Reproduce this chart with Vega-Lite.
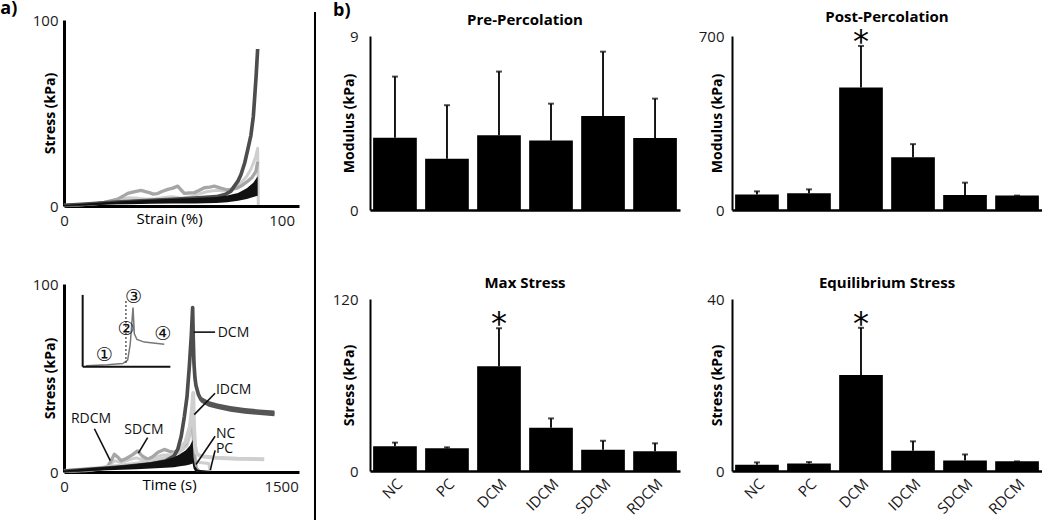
{
  "$schema": "https://vega.github.io/schema/vega-lite/v6.json",
  "background": "white",
  "padding": {"left": 0, "top": 0, "right": 0, "bottom": 0},
  "config": {
    "font": "Open Sans",
    "view": {"stroke": null},
    "axis": {"grid": false, "ticks": false, "domainColor": "#000", "labelColor": "#1a1a1a", "labelFontSize": 15, "titleFontSize": 14, "titleFontWeight": "bold", "titleColor": "#000", "labelPadding": 4},
    "title": {"fontSize": 15, "fontWeight": "bold", "color": "#000", "offset": 1}
  },
  "datasets": {
    "bars": [
      {"m": "pre", "g": "NC", "v": 3.74, "hi": 6.9, "sig": ""},
      {"m": "pre", "g": "PC", "v": 2.65, "hi": 5.42, "sig": ""},
      {"m": "pre", "g": "DCM", "v": 3.86, "hi": 7.16, "sig": ""},
      {"m": "pre", "g": "IDCM", "v": 3.6, "hi": 5.5, "sig": ""},
      {"m": "pre", "g": "SDCM", "v": 4.86, "hi": 8.19, "sig": ""},
      {"m": "pre", "g": "RDCM", "v": 3.72, "hi": 5.76, "sig": ""},
      {"m": "post", "g": "NC", "v": 62, "hi": 75, "sig": ""},
      {"m": "post", "g": "PC", "v": 67, "hi": 83, "sig": ""},
      {"m": "post", "g": "DCM", "v": 493, "hi": 660, "sig": "*"},
      {"m": "post", "g": "IDCM", "v": 212, "hi": 265, "sig": ""},
      {"m": "post", "g": "SDCM", "v": 60, "hi": 110, "sig": ""},
      {"m": "post", "g": "RDCM", "v": 58, "hi": 58, "sig": ""},
      {"m": "max", "g": "NC", "v": 17.2, "hi": 19.8, "sig": ""},
      {"m": "max", "g": "PC", "v": 15.8, "hi": 16.5, "sig": ""},
      {"m": "max", "g": "DCM", "v": 73, "hi": 99.6, "sig": "*"},
      {"m": "max", "g": "IDCM", "v": 30.2, "hi": 36.7, "sig": ""},
      {"m": "max", "g": "SDCM", "v": 14.9, "hi": 21.1, "sig": ""},
      {"m": "max", "g": "RDCM", "v": 13.7, "hi": 19.3, "sig": ""},
      {"m": "eq", "g": "NC", "v": 1.46, "hi": 2.0, "sig": ""},
      {"m": "eq", "g": "PC", "v": 1.77, "hi": 2.08, "sig": ""},
      {"m": "eq", "g": "DCM", "v": 22.3, "hi": 33.3, "sig": "*"},
      {"m": "eq", "g": "IDCM", "v": 4.7, "hi": 6.9, "sig": ""},
      {"m": "eq", "g": "SDCM", "v": 2.47, "hi": 3.85, "sig": ""},
      {"m": "eq", "g": "RDCM", "v": 2.24, "hi": 2.24, "sig": ""}
    ],
    "st": [
      {"s": "light", "x": 0, "y": 0.2}, {"s": "light", "x": 10, "y": 0.8}, {"s": "light", "x": 18, "y": 1.8}, {"s": "light", "x": 22, "y": 2.8}, {"s": "light", "x": 26, "y": 3.8}, {"s": "light", "x": 30, "y": 4.5}, {"s": "light", "x": 34, "y": 4.2}, {"s": "light", "x": 38, "y": 3.6}, {"s": "light", "x": 42, "y": 3.9}, {"s": "light", "x": 46, "y": 4.6}, {"s": "light", "x": 50, "y": 5.0}, {"s": "light", "x": 54, "y": 4.2}, {"s": "light", "x": 58, "y": 4.8}, {"s": "light", "x": 62, "y": 6.5}, {"s": "light", "x": 66, "y": 7.8}, {"s": "light", "x": 70, "y": 8.4}, {"s": "light", "x": 74, "y": 8.0}, {"s": "light", "x": 78, "y": 9.5}, {"s": "light", "x": 81, "y": 12}, {"s": "light", "x": 84, "y": 16}, {"s": "light", "x": 86, "y": 20}, {"s": "light", "x": 88, "y": 26}, {"s": "light", "x": 89, "y": 31}, {"s": "light", "x": 89.3, "y": 0.5},
      {"s": "gray", "x": 0, "y": 0.3}, {"s": "gray", "x": 5, "y": 0.6}, {"s": "gray", "x": 10, "y": 0.9}, {"s": "gray", "x": 15, "y": 1.3}, {"s": "gray", "x": 18.5, "y": 1.9}, {"s": "gray", "x": 21, "y": 2.6}, {"s": "gray", "x": 24.7, "y": 3.7}, {"s": "gray", "x": 27, "y": 5.2}, {"s": "gray", "x": 29.3, "y": 6.8}, {"s": "gray", "x": 32, "y": 7.6}, {"s": "gray", "x": 35.4, "y": 8.4}, {"s": "gray", "x": 37, "y": 7.9}, {"s": "gray", "x": 39.2, "y": 7.2}, {"s": "gray", "x": 41, "y": 6.4}, {"s": "gray", "x": 43, "y": 6.7}, {"s": "gray", "x": 45, "y": 7.8}, {"s": "gray", "x": 47.7, "y": 8.9}, {"s": "gray", "x": 50, "y": 9.6}, {"s": "gray", "x": 52.3, "y": 10.7}, {"s": "gray", "x": 53.5, "y": 9.0}, {"s": "gray", "x": 55.3, "y": 6.8}, {"s": "gray", "x": 57.5, "y": 7.0}, {"s": "gray", "x": 59.9, "y": 7.2}, {"s": "gray", "x": 62, "y": 8.3}, {"s": "gray", "x": 64.5, "y": 9.8}, {"s": "gray", "x": 67, "y": 10.2}, {"s": "gray", "x": 69.1, "y": 10.7}, {"s": "gray", "x": 72, "y": 9.6}, {"s": "gray", "x": 75.2, "y": 8.6}, {"s": "gray", "x": 77.5, "y": 9.1}, {"s": "gray", "x": 79.8, "y": 9.8}, {"s": "gray", "x": 82, "y": 11.2}, {"s": "gray", "x": 84.4, "y": 13.3}, {"s": "gray", "x": 86.5, "y": 15.5}, {"s": "gray", "x": 88.2, "y": 18.6}, {"s": "gray", "x": 89, "y": 23.8},
      {"s": "DCM", "x": 0, "y": 0.4}, {"s": "DCM", "x": 10, "y": 1.0}, {"s": "DCM", "x": 20, "y": 1.8}, {"s": "DCM", "x": 30, "y": 2.5}, {"s": "DCM", "x": 40, "y": 3.0}, {"s": "DCM", "x": 50, "y": 3.6}, {"s": "DCM", "x": 60, "y": 4.2}, {"s": "DCM", "x": 70, "y": 5.0}, {"s": "DCM", "x": 74, "y": 6.2}, {"s": "DCM", "x": 76.7, "y": 8}, {"s": "DCM", "x": 78.3, "y": 10.7}, {"s": "DCM", "x": 80, "y": 13.5}, {"s": "DCM", "x": 81.3, "y": 16.8}, {"s": "DCM", "x": 83, "y": 23}, {"s": "DCM", "x": 84.4, "y": 30}, {"s": "DCM", "x": 85.9, "y": 38}, {"s": "DCM", "x": 87, "y": 48}, {"s": "DCM", "x": 87.5, "y": 56.3}, {"s": "DCM", "x": 88.3, "y": 70}, {"s": "DCM", "x": 89, "y": 84.4}
    ],
    "stBand": [
      {"x": 0, "lo": 0, "hi": 0.5}, {"x": 5, "lo": 0.2, "hi": 1.0}, {"x": 10, "lo": 0.4, "hi": 1.4}, {"x": 15, "lo": 0.6, "hi": 1.8}, {"x": 20, "lo": 0.8, "hi": 2.2}, {"x": 30, "lo": 1.0, "hi": 2.8}, {"x": 40, "lo": 1.2, "hi": 3.4}, {"x": 50, "lo": 1.3, "hi": 3.9}, {"x": 60, "lo": 1.4, "hi": 4.3}, {"x": 70, "lo": 1.6, "hi": 4.8}, {"x": 75, "lo": 2.0, "hi": 5.6}, {"x": 80, "lo": 2.8, "hi": 7.0}, {"x": 84, "lo": 3.8, "hi": 9.5}, {"x": 87, "lo": 4.8, "hi": 12.5}, {"x": 89, "lo": 5.5, "hi": 16}
    ],
    "tm": [
      {"s": "light", "t": 0, "y": 0.3}, {"s": "light", "t": 200, "y": 1.2}, {"s": "light", "t": 300, "y": 2.5}, {"s": "light", "t": 350, "y": 6}, {"s": "light", "t": 394, "y": 5}, {"s": "light", "t": 450, "y": 6.5}, {"s": "light", "t": 500, "y": 7.5}, {"s": "light", "t": 560, "y": 6}, {"s": "light", "t": 620, "y": 7.5}, {"s": "light", "t": 680, "y": 9}, {"s": "light", "t": 740, "y": 9}, {"s": "light", "t": 800, "y": 10.5}, {"s": "light", "t": 850, "y": 14}, {"s": "light", "t": 880, "y": 22}, {"s": "light", "t": 890, "y": 26}, {"s": "light", "t": 898, "y": 12}, {"s": "light", "t": 910, "y": 6}, {"s": "light", "t": 940, "y": 5}, {"s": "light", "t": 1000, "y": 4.5}, {"s": "light", "t": 1010, "y": 0.5},
      {"s": "gray", "t": 0, "y": 0.3}, {"s": "gray", "t": 150, "y": 0.8}, {"s": "gray", "t": 250, "y": 1.5}, {"s": "gray", "t": 300, "y": 3}, {"s": "gray", "t": 323, "y": 5.5}, {"s": "gray", "t": 348, "y": 9.5}, {"s": "gray", "t": 370, "y": 8}, {"s": "gray", "t": 394, "y": 6}, {"s": "gray", "t": 430, "y": 7.2}, {"s": "gray", "t": 470, "y": 9}, {"s": "gray", "t": 509, "y": 11.2}, {"s": "gray", "t": 540, "y": 8.5}, {"s": "gray", "t": 578, "y": 6.8}, {"s": "gray", "t": 610, "y": 8}, {"s": "gray", "t": 650, "y": 10.5}, {"s": "gray", "t": 693, "y": 12}, {"s": "gray", "t": 730, "y": 11}, {"s": "gray", "t": 762, "y": 10.5}, {"s": "gray", "t": 800, "y": 12}, {"s": "gray", "t": 840, "y": 15}, {"s": "gray", "t": 877, "y": 26}, {"s": "gray", "t": 889, "y": 30}, {"s": "gray", "t": 896, "y": 14}, {"s": "gray", "t": 905, "y": 6}, {"s": "gray", "t": 915, "y": 2}, {"s": "gray", "t": 930, "y": 0.5},
      {"s": "IDCM", "t": 0, "y": 0.5}, {"s": "IDCM", "t": 200, "y": 1.8}, {"s": "IDCM", "t": 400, "y": 3.5}, {"s": "IDCM", "t": 600, "y": 5.5}, {"s": "IDCM", "t": 700, "y": 7.5}, {"s": "IDCM", "t": 760, "y": 9.5}, {"s": "IDCM", "t": 800, "y": 12}, {"s": "IDCM", "t": 840, "y": 16}, {"s": "IDCM", "t": 870, "y": 24}, {"s": "IDCM", "t": 885, "y": 34}, {"s": "IDCM", "t": 893, "y": 42}, {"s": "IDCM", "t": 898, "y": 25}, {"s": "IDCM", "t": 905, "y": 14}, {"s": "IDCM", "t": 915, "y": 10}, {"s": "IDCM", "t": 935, "y": 8.8}, {"s": "IDCM", "t": 960, "y": 8.2}, {"s": "IDCM", "t": 1050, "y": 7.6}, {"s": "IDCM", "t": 1200, "y": 7.1}, {"s": "IDCM", "t": 1384, "y": 6.8},
      {"s": "DCM", "t": 0, "y": 0.5}, {"s": "DCM", "t": 200, "y": 1.5}, {"s": "DCM", "t": 400, "y": 2.8}, {"s": "DCM", "t": 600, "y": 4.3}, {"s": "DCM", "t": 700, "y": 5.8}, {"s": "DCM", "t": 760, "y": 8.5}, {"s": "DCM", "t": 786, "y": 12}, {"s": "DCM", "t": 810, "y": 19}, {"s": "DCM", "t": 832, "y": 29.6}, {"s": "DCM", "t": 850, "y": 40}, {"s": "DCM", "t": 866, "y": 56}, {"s": "DCM", "t": 880, "y": 73}, {"s": "DCM", "t": 889, "y": 87.5}, {"s": "DCM", "t": 893, "y": 72}, {"s": "DCM", "t": 898, "y": 58}, {"s": "DCM", "t": 905, "y": 50}, {"s": "DCM", "t": 912, "y": 46}, {"s": "DCM", "t": 930, "y": 41}, {"s": "DCM", "t": 947, "y": 38.5}, {"s": "DCM", "t": 1000, "y": 36.2}, {"s": "DCM", "t": 1062, "y": 35}, {"s": "DCM", "t": 1150, "y": 33.6}, {"s": "DCM", "t": 1250, "y": 32.5}, {"s": "DCM", "t": 1350, "y": 31.8}, {"s": "DCM", "t": 1454, "y": 31.2}
    ],
    "tmBand": [
      {"t": 0, "lo": 0, "hi": 0.8}, {"t": 100, "lo": 0.3, "hi": 1.5}, {"t": 200, "lo": 0.6, "hi": 2.2}, {"t": 300, "lo": 0.9, "hi": 2.8}, {"t": 400, "lo": 1.2, "hi": 3.5}, {"t": 500, "lo": 1.5, "hi": 4.3}, {"t": 600, "lo": 1.8, "hi": 5.2}, {"t": 700, "lo": 2.2, "hi": 6.5}, {"t": 760, "lo": 2.5, "hi": 7.8}, {"t": 800, "lo": 3.0, "hi": 9.5}, {"t": 840, "lo": 3.5, "hi": 11.5}, {"t": 870, "lo": 4.0, "hi": 14.0}, {"t": 889, "lo": 4.5, "hi": 17.0}, {"t": 895, "lo": 2.0, "hi": 8.0}, {"t": 905, "lo": 0.5, "hi": 3.0}, {"t": 925, "lo": 0, "hi": 1.2}, {"t": 1000, "lo": 0, "hi": 0.6}, {"t": 1015, "lo": 0, "hi": 0.4}
    ],
    "tmDcmBand": [
      {"t": 898, "lo": 56.5, "hi": 59.5}, {"t": 905, "lo": 48.5, "hi": 51.5}, {"t": 912, "lo": 44.5, "hi": 47.5}, {"t": 930, "lo": 39.5, "hi": 42.5}, {"t": 947, "lo": 37, "hi": 40}, {"t": 1000, "lo": 34.7, "hi": 37.7}, {"t": 1062, "lo": 33.5, "hi": 36.5}, {"t": 1150, "lo": 32.1, "hi": 35.1}, {"t": 1250, "lo": 31, "hi": 34}, {"t": 1350, "lo": 30.3, "hi": 33.3}, {"t": 1454, "lo": 29.7, "hi": 32.7}
    ],
    "ins": [
      {"t": 152, "y": 56.5}, {"t": 300, "y": 57.0}, {"t": 406, "y": 57.7}, {"t": 440, "y": 59.5}, {"t": 458, "y": 68.2}, {"t": 470, "y": 80.5}, {"t": 477, "y": 87.5}, {"t": 486, "y": 73.5}, {"t": 504, "y": 70.5}, {"t": 555, "y": 69.1}, {"t": 693, "y": 67.9}
    ],
    "insAx": [
      {"t": 129, "y": 94.2, "t2": 129, "y2": 56}, {"t": 129, "y": 56, "t2": 735, "y2": 56}
    ],
    "insDash": [
      {"t": 428, "y": 91, "t2": 428, "y2": 57.5}
    ],
    "circ": [
      {"t": 279, "y": 62.1, "label": "①"}, {"t": 428, "y": 76.2, "label": "②"}, {"t": 481, "y": 93.2, "label": "③"}, {"t": 682, "y": 73.2, "label": "④"}
    ],
    "lab": [
      {"t": 1062, "y": 74, "label": "DCM"}, {"t": 1050, "y": 43.7, "label": "IDCM"}, {"t": 1050, "y": 20, "label": "NC"}, {"t": 1050, "y": 12.5, "label": "PC"}, {"t": 48, "y": 28, "label": "RDCM"}, {"t": 417, "y": 22.6, "label": "SDCM"}
    ],
    "lead": [
      {"t": 896, "y": 74.4, "t2": 1044, "y2": 74.4}, {"t": 900, "y": 30.5, "t2": 1044, "y2": 41.9}, {"t": 912, "y": 4, "t2": 1044, "y2": 19}, {"t": 1011, "y": 1, "t2": 1044, "y2": 11.5}, {"t": 210, "y": 23, "t2": 320, "y2": 6}, {"t": 578, "y": 18.3, "t2": 514, "y2": 10}
    ]
  },
  "columns": 3,
  "align": "none",
  "spacing": 15,
  "concat": [
    {
      "title": {"text": "a)", "anchor": "start", "fontSize": 18, "offset": -5, "dx": -32},
      "spacing": 49,
      "vconcat": [
        {
          "width": 235, "height": 186,
          "layer": [
            {
              "data": {"name": "st"},
              "mark": {"type": "line", "strokeJoin": "round"},
              "encoding": {
                "x": {"field": "x", "type": "quantitative", "scale": {"domain": [0, 108], "nice": false}, "axis": {"values": [0, 100], "title": "Strain (%)", "titleFontWeight": "normal", "titleFontSize": 15, "titleX": 105, "domainWidth": 3, "labelPadding": 7, "titlePadding": -17, "labelFlush": false}},
                "y": {"field": "y", "type": "quantitative", "scale": {"domain": [0, 100], "nice": false}, "axis": {"values": [0, 100], "title": "Stress (kPa)", "titleX": -7, "labelPadding": 6, "domainWidth": 3}},
                "color": {"field": "s", "type": "nominal", "scale": {"domain": ["light", "gray", "DCM"], "range": ["#cfcfcf", "#a6a6a6", "#4d4d4d"]}, "legend": null},
                "strokeWidth": {"field": "s", "type": "ordinal", "scale": {"domain": ["light", "gray", "DCM"], "range": [3, 4, 3]}, "legend": null}
              }
            },
            {
              "data": {"name": "stBand"},
              "mark": {"type": "area", "color": "#111", "opacity": 1},
              "encoding": {
                "x": {"field": "x", "type": "quantitative"},
                "y": {"field": "lo", "type": "quantitative"},
                "y2": {"field": "hi"}
              }
            }
          ]
        },
        {
          "width": 235, "height": 188,
          "layer": [
            {
              "data": {"name": "tm"},
              "mark": {"type": "line", "strokeJoin": "round"},
              "encoding": {
                "x": {"field": "t", "type": "quantitative", "scale": {"domain": [0, 1624], "nice": false}, "axis": {"values": [0, 1500], "format": "d", "title": "Time (s)", "titleFontWeight": "normal", "titleFontSize": 15, "titleX": 105, "domainWidth": 3, "labelPadding": 7, "titlePadding": -17, "labelFlush": false}},
                "y": {"field": "y", "type": "quantitative", "scale": {"domain": [0, 100], "nice": false}, "axis": {"values": [0, 100], "title": "Stress (kPa)", "titleX": -7, "labelPadding": 6, "domainWidth": 3}},
                "color": {"field": "s", "type": "nominal", "scale": {"domain": ["light", "gray", "IDCM", "DCM"], "range": ["#d2d2d2", "#a6a6a6", "#8f8f8f", "#4d4d4d"]}, "legend": null},
                "strokeWidth": {"field": "s", "type": "ordinal", "scale": {"domain": ["light", "gray", "IDCM", "DCM"], "range": [3, 4, 2, 1.5]}, "legend": null}
              }
            },
            {
              "data": {"name": "tmDcmBand"},
              "mark": {"type": "area", "color": "#555"},
              "encoding": {"x": {"field": "t", "type": "quantitative"}, "y": {"field": "lo", "type": "quantitative"}, "y2": {"field": "hi"}}
            },
            {
              "data": {"name": "tmBand"},
              "mark": {"type": "area", "color": "#111"},
              "encoding": {"x": {"field": "t", "type": "quantitative"}, "y": {"field": "lo", "type": "quantitative"}, "y2": {"field": "hi"}}
            },
            {
              "data": {"name": "ins"},
              "mark": {"type": "line", "color": "#777", "strokeWidth": 1.5},
              "encoding": {"x": {"field": "t", "type": "quantitative"}, "y": {"field": "y", "type": "quantitative"}}
            },
            {
              "data": {"name": "insAx"},
              "mark": {"type": "rule", "color": "#111", "strokeWidth": 2},
              "encoding": {"x": {"field": "t", "type": "quantitative"}, "x2": {"field": "t2"}, "y": {"field": "y", "type": "quantitative"}, "y2": {"field": "y2"}}
            },
            {
              "data": {"name": "insDash"},
              "mark": {"type": "rule", "color": "#333", "strokeWidth": 1.2, "strokeDash": [2, 2]},
              "encoding": {"x": {"field": "t", "type": "quantitative"}, "x2": {"field": "t2"}, "y": {"field": "y", "type": "quantitative"}, "y2": {"field": "y2"}}
            },
            {
              "data": {"name": "circ"},
              "mark": {"type": "text", "font": "DejaVu Sans", "fontSize": 19, "color": "#111", "align": "center", "baseline": "middle"},
              "encoding": {"x": {"field": "t", "type": "quantitative"}, "y": {"field": "y", "type": "quantitative"}, "text": {"field": "label"}}
            },
            {
              "data": {"name": "lead"},
              "mark": {"type": "rule", "color": "#111", "strokeWidth": 1.6},
              "encoding": {"x": {"field": "t", "type": "quantitative"}, "x2": {"field": "t2"}, "y": {"field": "y", "type": "quantitative"}, "y2": {"field": "y2"}}
            },
            {
              "data": {"name": "lab"},
              "mark": {"type": "text", "fontSize": 14, "color": "#111", "align": "left", "baseline": "middle"},
              "encoding": {"x": {"field": "t", "type": "quantitative"}, "y": {"field": "y", "type": "quantitative"}, "text": {"field": "label"}}
            }
          ]
        }
      ]
    },
    {
      "width": 2, "height": 515,
      "data": {"values": [{"d": 0, "y0": 0, "y1": 523}]},
      "mark": {"type": "rule", "strokeWidth": 2, "color": "#000", "clip": false},
      "encoding": {
        "x": {"field": "d", "type": "quantitative", "scale": {"domain": [0, 1]}, "axis": null},
        "y": {"field": "y0", "type": "quantitative", "scale": {"domain": [0, 515], "nice": false}, "axis": null},
        "y2": {"field": "y1"}
      }
    },
    {
      "spacing": -12,
      "vconcat": [
        {
          "width": 310, "height": 1,
          "title": {"text": "b)", "anchor": "start", "fontSize": 18, "offset": 0, "dx": -37},
          "data": {"values": []},
          "mark": "point"
        },
        {
          "columns": 2,
          "align": "each",
          "spacing": {"row": 58, "column": 18},
          "concat": [
            {
              "width": 310, "height": 174,
              "title": "Pre-Percolation",
              "data": {"name": "bars"},
              "transform": [{"filter": "datum.m == 'pre'"}],
              "encoding": {"x": {"field": "g", "type": "nominal", "sort": ["NC", "PC", "DCM", "IDCM", "SDCM", "RDCM"], "scale": {"paddingInner": 0.16, "paddingOuter": 0.06}, "axis": {"labels": false, "title": null, "domainWidth": 2.5}}},
              "layer": [
                {"mark": {"type": "bar", "color": "#000"}, "encoding": {"y": {"field": "v", "type": "quantitative", "scale": {"domain": [0, 9], "nice": false}, "axis": {"values": [0, 9], "title": "Modulus (kPa)", "titleX": -14, "labelPadding": 12, "domainWidth": 2}}}},
                {"mark": {"type": "rule", "color": "#000", "strokeWidth": 1.8}, "encoding": {"y": {"field": "v", "type": "quantitative"}, "y2": {"field": "hi"}}},
                {"mark": {"type": "tick", "color": "#000", "thickness": 2, "size": 6}, "encoding": {"y": {"field": "hi", "type": "quantitative"}}},
                {"mark": {"type": "text", "font": "DejaVu Sans", "fontSize": 32, "baseline": "alphabetic", "dy": 6}, "encoding": {"y": {"field": "hi", "type": "quantitative"}, "text": {"field": "sig"}}}
              ]
            },
            {
              "width": 310, "height": 174,
              "title": "Post-Percolation",
              "data": {"name": "bars"},
              "transform": [{"filter": "datum.m == 'post'"}],
              "encoding": {"x": {"field": "g", "type": "nominal", "sort": ["NC", "PC", "DCM", "IDCM", "SDCM", "RDCM"], "scale": {"paddingInner": 0.16, "paddingOuter": 0.06}, "axis": {"labels": false, "title": null, "domainWidth": 2.5}}},
              "layer": [
                {"mark": {"type": "bar", "color": "#000"}, "encoding": {"y": {"field": "v", "type": "quantitative", "scale": {"domain": [0, 700], "nice": false}, "axis": {"values": [0, 700], "title": "Modulus (kPa)", "titleX": -8, "labelPadding": 8, "domainWidth": 2}}}},
                {"mark": {"type": "rule", "color": "#000", "strokeWidth": 1.8}, "encoding": {"y": {"field": "v", "type": "quantitative"}, "y2": {"field": "hi"}}},
                {"mark": {"type": "tick", "color": "#000", "thickness": 2, "size": 6}, "encoding": {"y": {"field": "hi", "type": "quantitative"}}},
                {"mark": {"type": "text", "font": "DejaVu Sans", "fontSize": 32, "baseline": "alphabetic", "dy": 6}, "encoding": {"y": {"field": "hi", "type": "quantitative"}, "text": {"field": "sig"}}}
              ]
            },
            {
              "width": 310, "height": 172,
              "title": "Max Stress",
              "data": {"name": "bars"},
              "transform": [{"filter": "datum.m == 'max'"}],
              "encoding": {"x": {"field": "g", "type": "nominal", "sort": ["NC", "PC", "DCM", "IDCM", "SDCM", "RDCM"], "scale": {"paddingInner": 0.16, "paddingOuter": 0.06}, "axis": {"labelAngle": -45, "title": null, "domainWidth": 2.5, "labelPadding": 5}}},
              "layer": [
                {"mark": {"type": "bar", "color": "#000"}, "encoding": {"y": {"field": "v", "type": "quantitative", "scale": {"domain": [0, 120], "nice": false}, "axis": {"values": [0, 120], "title": "Stress (kPa)", "titleX": -14, "labelPadding": 12, "domainWidth": 2}}}},
                {"mark": {"type": "rule", "color": "#000", "strokeWidth": 1.8}, "encoding": {"y": {"field": "v", "type": "quantitative"}, "y2": {"field": "hi"}}},
                {"mark": {"type": "tick", "color": "#000", "thickness": 2, "size": 6}, "encoding": {"y": {"field": "hi", "type": "quantitative"}}},
                {"mark": {"type": "text", "font": "DejaVu Sans", "fontSize": 32, "baseline": "alphabetic", "dy": 6}, "encoding": {"y": {"field": "hi", "type": "quantitative"}, "text": {"field": "sig"}}}
              ]
            },
            {
              "width": 310, "height": 172,
              "title": "Equilibrium Stress",
              "data": {"name": "bars"},
              "transform": [{"filter": "datum.m == 'eq'"}],
              "encoding": {"x": {"field": "g", "type": "nominal", "sort": ["NC", "PC", "DCM", "IDCM", "SDCM", "RDCM"], "scale": {"paddingInner": 0.16, "paddingOuter": 0.06}, "axis": {"labelAngle": -45, "title": null, "domainWidth": 2.5, "labelPadding": 5}}},
              "layer": [
                {"mark": {"type": "bar", "color": "#000"}, "encoding": {"y": {"field": "v", "type": "quantitative", "scale": {"domain": [0, 40], "nice": false}, "axis": {"values": [0, 40], "title": "Stress (kPa)", "titleX": -8, "labelPadding": 8, "domainWidth": 2}}}},
                {"mark": {"type": "rule", "color": "#000", "strokeWidth": 1.8}, "encoding": {"y": {"field": "v", "type": "quantitative"}, "y2": {"field": "hi"}}},
                {"mark": {"type": "tick", "color": "#000", "thickness": 2, "size": 6}, "encoding": {"y": {"field": "hi", "type": "quantitative"}}},
                {"mark": {"type": "text", "font": "DejaVu Sans", "fontSize": 32, "baseline": "alphabetic", "dy": 6}, "encoding": {"y": {"field": "hi", "type": "quantitative"}, "text": {"field": "sig"}}}
              ]
            }
          ]
        }
      ]
    }
  ]
}
